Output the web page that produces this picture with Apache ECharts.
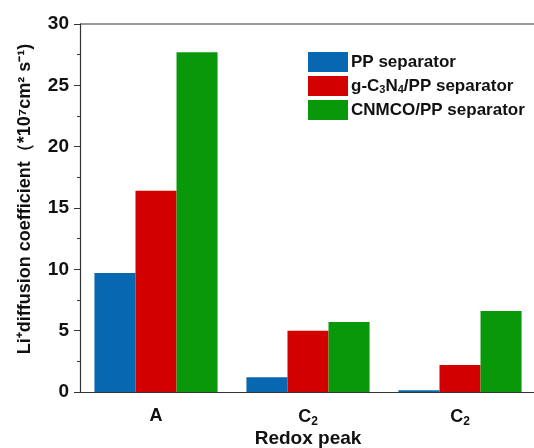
<!DOCTYPE html>
<html>
<head>
<meta charset="utf-8">
<script src="https://cdn.jsdelivr.net/npm/echarts@6/dist/echarts.min.js"></script>
<style>html,body{margin:0;padding:0;background:#fff}#c{width:534px;height:448px}</style>
</head>
<body>
<div id="c"></div>
<script>
// Redox peaks on the x axis
const categories = ['A', 'C{sub|2}', 'C{sub|2}'];
// Li+ diffusion coefficient (×10^7 cm² s⁻¹) per separator
const ppSeparator = [9.7, 1.2, 0.15];
const gc3n4Separator = [16.4, 5.0, 2.2];
const cnmcoSeparator = [27.7, 5.7, 6.6];
const seriesNames = ['PP separator', 'g-C3N4/PP separator', 'CNMCO/PP separator'];
const yTicks = { min: 0, max: 30, interval: 5 };

const colors = ['#0867b1', '#d30000', '#08980a'];
const font = 'Arial, "Liberation Sans", sans-serif';

const chart = echarts.init(document.getElementById('c'));
chart.setOption({
  animation: false,
  grid: { left: 80, right: -2, top: 24, bottom: 56, outerBoundsMode: 'none', containLabel: false },
  legend: {
    left: 303, top: 47, orient: 'vertical',
    itemWidth: 40, itemHeight: 20, itemGap: 4,
    icon: 'rect',
    formatter: function (n) {
      return n === 'g-C3N4/PP separator' ? 'g-C{sub|3}N{sub|4}/PP separator' : n;
    },
    textStyle: {
      fontFamily: font, fontWeight: 'bold', fontSize: 17, color: '#111', padding: [0, 0, 0, -2],
      rich: { sub: { fontFamily: font, fontWeight: 'bold', fontSize: 11, padding: [7, 0, 0, 0] } }
    },
    data: seriesNames
  },
  xAxis: {
    type: 'category', data: categories,
    name: 'Redox peak', nameLocation: 'middle', nameGap: 37, nameMoveOverlap: false,
    nameTextStyle: { fontFamily: font, fontWeight: 'bold', fontSize: 19, color: '#111' },
    axisLine: { lineStyle: { color: '#333', width: 1.2 } },
    axisTick: { alignWithLabel: true, length: 5, lineStyle: { color: '#333' } },
    axisLabel: {
      margin: 15, color: '#111', fontFamily: font, fontWeight: 'bold', fontSize: 18,
      formatter: v => v,
      rich: { sub: { fontFamily: font, fontWeight: 'bold', fontSize: 12, padding: [9, 0, 0, 0] } }
    }
  },
  yAxis: {
    type: 'value', min: yTicks.min, max: yTicks.max, interval: yTicks.interval,
    name: 'Li⁺diffusion coefficient（*10⁷cm² s⁻¹)', nameLocation: 'middle', nameGap: 46, nameMoveOverlap: false,
    nameTextStyle: { fontFamily: font, fontWeight: 'bold', fontSize: 18, color: '#111', padding: [0, 0, 0, 18] },
    axisLine: { show: true, lineStyle: { color: '#333', width: 1.2 } },
    axisTick: { show: true, inside: false, length: 6, lineStyle: { color: '#333' } },
    minorTick: { show: true, splitNumber: 2, length: 3, lineStyle: { color: '#333' } },
    splitLine: { show: false },
    axisLabel: { margin: 11, color: '#111', fontFamily: font, fontWeight: 'bold', fontSize: 19 }
  },
  series: [
    { name: seriesNames[0], type: 'bar', data: ppSeparator, itemStyle: { color: colors[0] }, barGap: '0%', barCategoryGap: '19%' },
    { name: seriesNames[1], type: 'bar', data: gc3n4Separator, itemStyle: { color: colors[1] }, barGap: '0%', barCategoryGap: '19%' },
    { name: seriesNames[2], type: 'bar', data: cnmcoSeparator, itemStyle: { color: colors[2] }, barGap: '0%', barCategoryGap: '19%' }
  ]
});
// top frame line across the plot area
chart.setOption({
  graphic: [{
    type: 'line', shape: { x1: 80, y1: 24, x2: 534, y2: 24 },
    style: { stroke: '#333', lineWidth: 1.2 }
  }]
});
</script>
</body>
</html>
